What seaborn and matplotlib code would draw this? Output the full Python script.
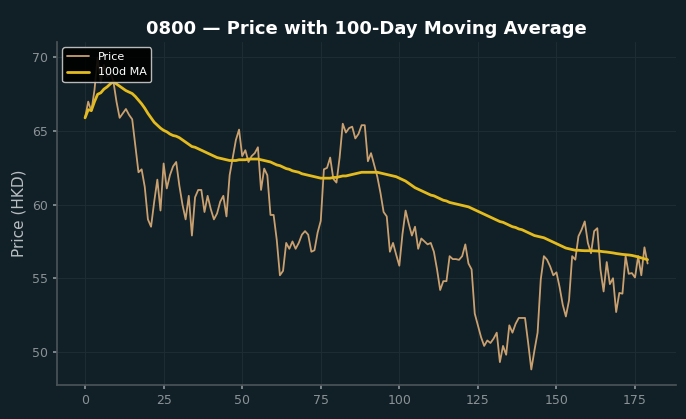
import numpy as np
import pandas as pd
import matplotlib
matplotlib.use("Agg")
import matplotlib.pyplot as plt
import seaborn as sns

# closing price, one value per trading day
price = [
    65.9, 67.0, 66.35, 67.8, 70.0, 68.3, 69.5, 68.7, 69.0, 68.4,
    67.0, 65.9, 66.2, 66.5, 66.1, 65.8, 64.0, 62.2, 62.4, 61.2,
    59.0, 58.5, 60.2, 61.7, 59.6, 62.8, 61.1, 62.0, 62.6, 62.9,
    61.3, 60.0, 59.0, 60.6, 57.9, 60.5, 61.0, 61.0, 59.5, 60.6,
    59.7, 59.0, 59.4, 60.2, 60.6, 59.2, 62.0, 63.2, 64.4, 65.1,
    63.3, 63.7, 62.9, 63.3, 63.5, 63.9, 61.0, 62.45, 62.0, 59.3,
    59.3, 57.6, 55.2, 55.5, 57.4, 57.0, 57.5, 57.0, 57.4, 57.96,
    58.2, 57.96, 56.8, 56.9, 58.1, 58.9, 62.4, 62.5, 63.2, 61.75,
    61.5, 63.2, 65.5, 64.9, 65.2, 65.3, 64.5, 64.8, 65.4, 65.4,
    62.95, 63.5, 62.7, 61.9, 60.8, 59.5, 59.2, 56.8, 57.4, 56.6,
    55.85, 58.0, 59.6, 58.7, 57.9, 58.5, 57.0, 57.7, 57.5, 57.3,
    57.4, 56.8, 55.6, 54.2, 54.8, 54.8, 56.5, 56.3, 56.3, 56.25,
    56.5, 57.3, 56.0, 55.6, 52.6, 51.8, 51.0, 50.4, 50.77, 50.6,
    50.9, 51.3, 49.3, 50.4, 49.8, 51.8, 51.3, 51.9, 52.3, 52.3,
    52.3, 50.6, 48.8, 50.1, 51.3, 54.9, 56.5, 56.26, 55.8, 55.2,
    55.4, 54.4, 53.2, 52.4, 53.5, 56.5, 56.26, 57.85, 58.3, 58.86,
    57.4, 56.7, 58.2, 58.4, 55.6, 54.1, 56.1, 54.6, 55.0, 52.7,
    54.0, 53.95, 56.5, 55.3, 55.35, 55.05, 56.5, 55.2, 57.1, 56.0,
]

# 100-day moving average
ma100 = [
    65.9, 66.45, 66.4, 67.0, 67.5, 67.6, 67.85, 68.0, 68.2, 68.35,
    68.2, 68.05, 67.9, 67.75, 67.65, 67.55, 67.35, 67.1, 66.85, 66.55,
    66.2, 65.9, 65.6, 65.4, 65.2, 65.05, 64.95, 64.8, 64.7, 64.65,
    64.55, 64.4, 64.25, 64.1, 63.95, 63.9, 63.8, 63.7, 63.6, 63.5,
    63.4, 63.3, 63.2, 63.15, 63.1, 63.05, 63.0, 63.0, 63.0, 63.05,
    63.05, 63.05, 63.1, 63.1, 63.1, 63.1, 63.05, 63.0, 62.95, 62.9,
    62.8, 62.7, 62.65, 62.55, 62.45, 62.4, 62.3, 62.25, 62.2, 62.1,
    62.05, 62.0, 61.95, 61.9, 61.85, 61.8, 61.8, 61.8, 61.8, 61.85,
    61.85, 61.9, 61.95, 61.95, 62.0, 62.05, 62.1, 62.15, 62.2, 62.2,
    62.2, 62.2, 62.2, 62.2, 62.15, 62.1, 62.05, 62.0, 61.95, 61.9,
    61.8, 61.7, 61.6, 61.45, 61.3, 61.15, 61.05, 60.95, 60.85, 60.75,
    60.65, 60.6, 60.5, 60.4, 60.3, 60.25, 60.15, 60.1, 60.05, 60.0,
    59.95, 59.9, 59.85, 59.75, 59.65, 59.55, 59.45, 59.35, 59.25, 59.15,
    59.05, 58.95, 58.85, 58.8, 58.7, 58.6, 58.5, 58.45, 58.35, 58.3,
    58.2, 58.1, 58.0, 57.9, 57.85, 57.8, 57.75, 57.65, 57.55, 57.45,
    57.35, 57.25, 57.15, 57.05, 57.0, 56.95, 56.9, 56.9, 56.88, 56.87,
    56.87, 56.87, 56.86, 56.85, 56.83, 56.8, 56.78, 56.75, 56.72, 56.68,
    56.65, 56.62, 56.6, 56.58, 56.55, 56.5, 56.45, 56.38, 56.32, 56.26,
]

bg = "#111f26"
df = pd.DataFrame({"day": np.arange(len(price)), "price": price, "ma": ma100})

sns.set_theme(style="dark")
fig, ax = plt.subplots(figsize=(6.86, 4.19), dpi=100)
fig.patch.set_facecolor(bg)
ax.set_facecolor(bg)

sns.lineplot(data=df, x="day", y="price", ax=ax, color="#c9a070", linewidth=1.3, label="Price")
sns.lineplot(data=df, x="day", y="ma", ax=ax, color="#e3bb1e", linewidth=2, label="100d MA")

ax.set_title("0800 — Price with 100-Day Moving Average", color="white", fontsize=13, fontweight="bold")
ax.set_xlabel("")
ax.set_ylabel("Price (HKD)", color="#b8bec2", fontsize=11)
ax.tick_params(colors="#8a9296", labelsize=9, length=3, left=True, bottom=True)
ax.grid(True, color="#1d2c33", linewidth=0.8)
for s in ["top", "right"]:
    ax.spines[s].set_visible(False)
for s in ["left", "bottom"]:
    ax.spines[s].set_color("#4a5256")

leg = ax.legend(loc="upper left", facecolor="black", edgecolor="#cccccc", fontsize=8, framealpha=0.9)
for t in leg.get_texts():
    t.set_color("white")

plt.subplots_adjust(left=0.083, right=0.985, top=0.9, bottom=0.081)
plt.savefig("out.png", facecolor=bg)
